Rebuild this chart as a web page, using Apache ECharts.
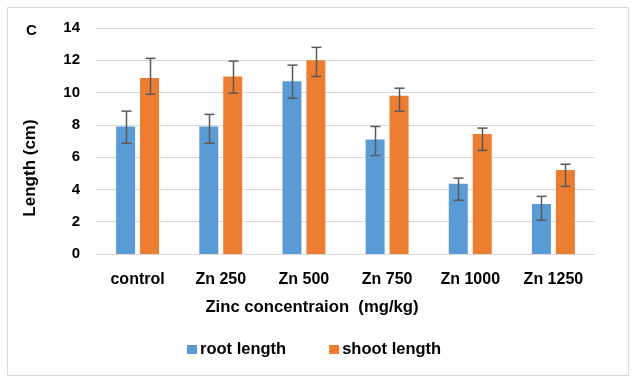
<!DOCTYPE html>
<html><head><meta charset="utf-8">
<script src="https://cdn.jsdelivr.net/npm/echarts@6/dist/echarts.min.js"></script>
<style>html,body{margin:0;padding:0;background:#fff}#c{width:633px;height:380px}</style>
</head><body><div id="c"></div>
<script>
var categories = ['control', 'Zn 250', 'Zn 500', 'Zn 750', 'Zn 1000', 'Zn 1250'];
var rootLength = [7.9, 7.9, 10.7, 7.1, 4.35, 3.1];
var rootHigh = [8.85, 8.65, 11.7, 7.9, 4.7, 3.57];
var rootLow = [6.86, 6.86, 9.65, 6.1, 3.33, 2.09];
var shootLength = [10.9, 11.0, 12.0, 9.8, 7.43, 5.2];
var shootHigh = [12.12, 11.95, 12.8, 10.27, 7.8, 5.56];
var shootLow = [9.9, 9.96, 11.0, 8.84, 6.42, 4.19];
var yTicks = [0, 2, 4, 6, 8, 10, 12, 14];

var FONT = 'Liberation Sans, Arial, sans-serif';
var chart = echarts.init(document.getElementById('c'), null, {renderer: 'canvas'});

function errSeries(high, low, offset) {
  var data = categories.map(function (c, i) { return [i, low[i], high[i]]; });
  return {
    type: 'custom',
    silent: true,
    z: 10,
    data: data,
    encode: {x: 0, y: [1, 2]},
    renderItem: function (params, api) {
      var i = api.value(0);
      var lo = api.coord([i, api.value(1)]);
      var hi = api.coord([i, api.value(2)]);
      var x = Math.round(lo[0] + offset) + 0.5;
      var cap = 5;
      var st = {stroke: '#595959', lineWidth: 1.5, fill: null};
      return {
        type: 'group',
        children: [
          {type: 'line', shape: {x1: x, y1: hi[1], x2: x, y2: lo[1]}, style: st},
          {type: 'line', shape: {x1: x - cap, y1: hi[1], x2: x + cap, y2: hi[1]}, style: st},
          {type: 'line', shape: {x1: x - cap, y1: lo[1], x2: x + cap, y2: lo[1]}, style: st}
        ]
      };
    }
  };
}

chart.setOption({
  animation: false,
  backgroundColor: '#fff',
  graphic: [{
    type: 'rect', left: 5, top: 5,
    shape: {width: 621, height: 368},
    style: {fill: null, stroke: '#D9D9D9', lineWidth: 1}
  }],
  title: {
    text: 'C', left: 21, top: 18,
    textStyle: {fontFamily: FONT, fontSize: 15, fontWeight: 'bold', color: '#000'}
  },
  grid: {left: 96, right: 38, top: 28, bottom: 126},
  legend: {
    top: 336, left: 182,
    itemWidth: 10, itemHeight: 9, itemGap: 43,
    icon: 'rect',
    textStyle: {fontFamily: FONT, fontSize: 16.5, fontWeight: 'bold', color: '#000', padding: [0, 0, 0, -2]},
    data: ['root length', 'shoot length']
  },
  xAxis: {
    type: 'category',
    data: categories,
    name: 'Zinc concentraion  (mg/kg)',
    nameLocation: 'middle',
    nameGap: 45,
    nameTextStyle: {fontFamily: FONT, fontSize: 16.7, fontWeight: 'bold', color: '#000', padding: [0, 67, 0, 0]},
    axisLine: {lineStyle: {color: '#D9D9D9', width: 1}},
    axisTick: {show: false},
    axisLabel: {fontFamily: FONT, fontSize: 16, fontWeight: 'bold', color: '#000', margin: 18}
  },
  yAxis: {
    type: 'value',
    min: yTicks[0], max: yTicks[yTicks.length - 1], interval: 2,
    name: 'Length (cm)',
    nameLocation: 'middle',
    nameGap: 57,
    nameTextStyle: {fontFamily: FONT, fontSize: 17, fontWeight: 'bold', color: '#000', padding: [0, 54, 0, 0]},
    axisLine: {show: false},
    axisTick: {show: false},
    splitLine: {lineStyle: {color: '#D9D9D9', width: 1}},
    axisLabel: {fontFamily: FONT, fontSize: 15, fontWeight: 'bold', color: '#000', margin: 16}
  },
  series: [
    {name: 'root length', type: 'bar', data: rootLength, barWidth: 19, barGap: '26%',
      itemStyle: {color: '#5B9BD5'}},
    {name: 'shoot length', type: 'bar', data: shootLength, barWidth: 19, barGap: '26%',
      itemStyle: {color: '#ED7D31'}},
    errSeries(rootHigh, rootLow, -12),
    errSeries(shootHigh, shootLow, 12)
  ]
});
</script></body></html>
